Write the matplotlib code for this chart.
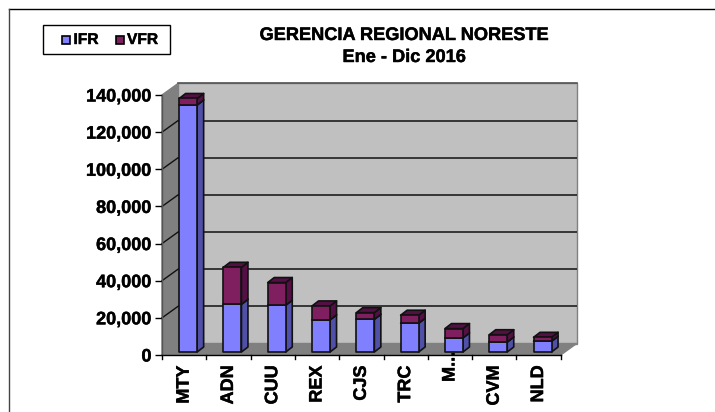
import matplotlib
matplotlib.use("Agg")
import matplotlib.pyplot as plt
from matplotlib.patches import Polygon, Rectangle
from matplotlib.lines import Line2D
from matplotlib.ticker import FuncFormatter
from matplotlib.transforms import ScaledTranslation
import matplotlib.patheffects as pe

plt.rcParams['font.family'] = ['Liberation Sans', 'DejaVu Sans']
plt.rcParams['font.weight'] = 'bold'

categories = ['MTY', 'ADN', 'CUU', 'REX', 'CJS', 'TRC', 'M...', 'CVM', 'NLD']
ifr = [133000, 25700, 25200, 17300, 17600, 15500, 7600, 5400, 5800]
vfr = [3500, 19900, 12200, 7500, 3600, 4300, 5000, 3900, 2100]
y_ticks = [0, 20000, 40000, 60000, 80000, 100000, 120000, 140000]

W, H = 715, 412
fig = plt.figure(figsize=(W/100, H/100), dpi=100, facecolor='white')
heavy = [pe.withStroke(linewidth=0.35, foreground='#111111')]

# page frame: only the top and left edges fall inside the picture
fig.add_artist(Line2D([8.5/W, 1], [1-8.5/H]*2, transform=fig.transFigure, color='black', lw=1.0))
fig.add_artist(Line2D([8.5/W]*2, [1-8.5/H, 0], transform=fig.transFigure, color='#444444', lw=1.0))

L, R, T, B = 162, 560.7, 95, 355
ax = fig.add_axes([L/W, 1-B/H, (R-L)/W, (B-T)/H])
ax.set_xlim(-0.5, len(categories)-0.5)
ax.set_ylim(0, 140000)
ax.patch.set_visible(False)
for s in ax.spines.values():
    s.set_visible(False)

px = (R-L)/len(categories)          # pixels per category
py = (B-T)/140000                   # pixels per unit
ox, oy = 16/px, 11.5/py             # wall depth in data units
ymax = 140000
x0, x1 = -0.5, len(categories)-0.5

wall = dict(ec='#808080', lw=1.0, clip_on=False)
ax.add_patch(Polygon([(x0+ox, oy), (x1+ox, oy), (x1+ox, ymax+oy), (x0+ox, ymax+oy)], fc='#C0C0C0', zorder=1, **wall))
ax.add_patch(Polygon([(x0, 0), (x0+ox, oy), (x0+ox, ymax+oy), (x0, ymax)], fc='#808080', zorder=1, **wall))
ax.add_patch(Polygon([(x0, 0), (x1, 0), (x1+ox, oy), (x0+ox, oy)], fc='#808080', zorder=1, **wall))
ax.plot([x0+ox, x1+ox], [ymax+oy, ymax+oy], color='#555555', lw=1.2, zorder=2, clip_on=False)

for v in y_ticks[1:-1]:
    ax.plot([x0+ox, x1+ox], [v+oy, v+oy], color='#111111', lw=1.1, zorder=2, clip_on=False, solid_capstyle='butt')
    ax.plot([x0, x0+ox], [v, v+oy], color='#111111', lw=1.0, zorder=2, clip_on=False)
ax.plot([x0, x1], [0, 0], color='black', lw=1.0, zorder=2, clip_on=False)
ax.plot([x0, x0], [0, ymax], color='#555555', lw=1.0, zorder=2, clip_on=False)

bw = 18/px
bdx, bdy = 6.5/px, 5/py
bx, by = 4/px, 3/py

def box(xc, lo, hi, front, side, top):
    l = xc - bw/2 + bx
    r = l + bw
    lo += by
    hi += by
    k = dict(ec='#111111', lw=1.2, clip_on=False, joinstyle='round', zorder=2.3)
    ax.add_patch(Polygon([(r, lo), (r+bdx, lo+bdy), (r+bdx, hi+bdy), (r, hi)], fc=side, **k))
    ax.add_patch(Polygon([(l, hi), (r, hi), (r+bdx, hi+bdy), (l+bdx, hi+bdy)], fc=top, **k))
    ax.add_patch(Polygon([(l, lo), (r, lo), (r, hi), (l, hi)], fc=front, **k))

for i, (a, b) in enumerate(zip(ifr, vfr)):
    box(i, 0, a, '#8080FF', '#5050A8', '#5050A8')
    box(i, a, a+b, '#7F1F60', '#541045', '#541045')

ax.set_yticks(y_ticks)
ax.yaxis.set_major_formatter(FuncFormatter(lambda v, p: f'{int(v):,}'))
ax.set_xticks(range(len(categories)))
ax.set_xticklabels(categories, rotation=90)
ax.tick_params(axis='y', length=5, width=1, labelsize=13, pad=2.5, color='black')
ax.tick_params(axis='x', length=0, labelsize=13, pad=7.5)
for lab in ax.get_yticklabels() + ax.get_xticklabels():
    lab.set_path_effects(heavy)
# the truncated label runs up over its bar, as in the source
mlab = ax.get_xticklabels()[6]
mlab.set_transform(mlab.get_transform() + ScaledTranslation(0, 14/100, fig.dpi_scale_trans))
# category separators on the axis
for i in range(len(categories)+1):
    ax.plot([x0+i, x0+i], [0, -4/py], color='black', lw=1.0, clip_on=False, zorder=2)

# title
fig.text(404/W, 1-35.5/H, 'GERENCIA REGIONAL NORESTE', ha='center', va='center', fontsize=13.1, path_effects=heavy)
fig.text(404/W, 1-57.5/H, 'Ene - Dic 2016', ha='center', va='center', fontsize=13.1, path_effects=heavy)

# legend
fig.add_artist(Rectangle((43/W, 1-53.5/H), 127/W, 28.5/H, transform=fig.transFigure, fill=False, ec='black', lw=1.0))
for xs, col, name in [(62, '#8080FF', 'IFR'), (115.5, '#7F1F60', 'VFR')]:
    fig.add_artist(Rectangle((xs/W, 1-43.5/H), 8/W, 8/H, transform=fig.transFigure, fc=col, ec='black', lw=1.2))
    fig.text((xs+11.5)/W, 1-39.5/H, name, ha='left', va='center', fontsize=11.2, path_effects=heavy)

fig.savefig('out.png', dpi=100)
